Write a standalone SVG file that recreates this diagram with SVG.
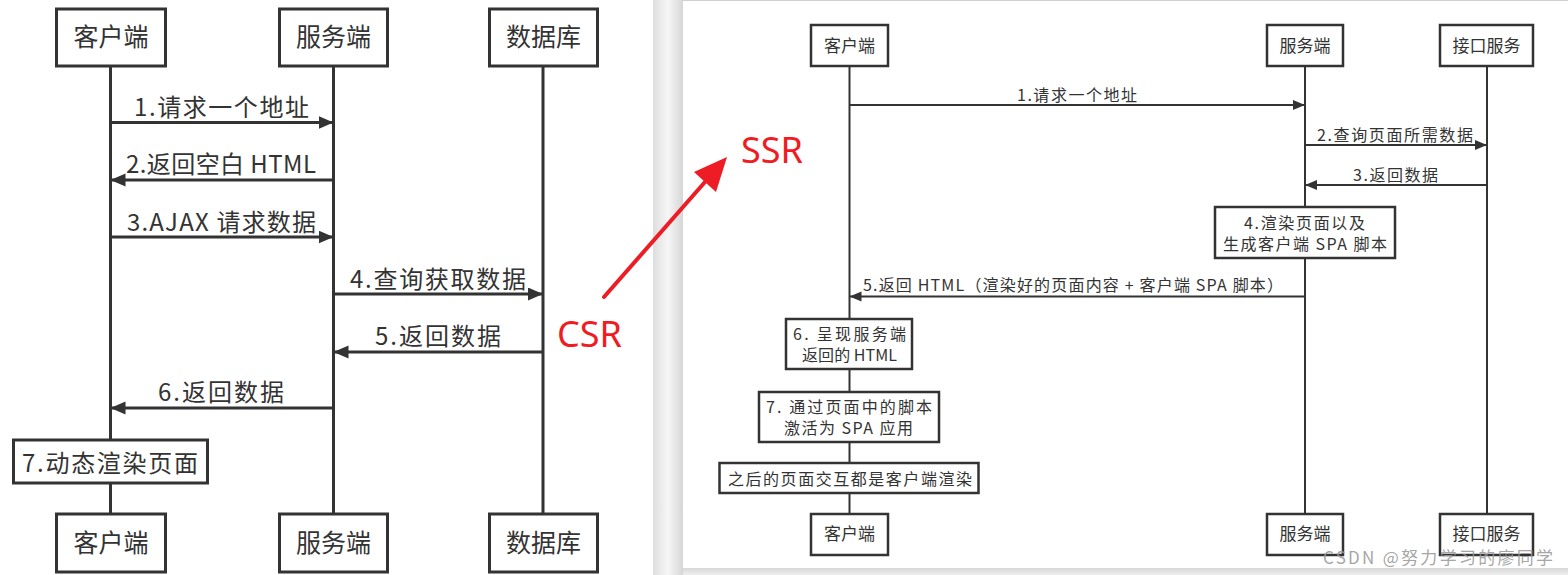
<svg xmlns="http://www.w3.org/2000/svg" width="1568" height="575" viewBox="0 0 1568 575">
<style>
.bl{fill:#fff;stroke:#333;stroke-width:3}
.br{fill:#fff;stroke:#333;stroke-width:2.5}
.ll{stroke:#333;stroke-width:3;fill:none}
.lr{stroke:#333;stroke-width:2;fill:none}
.tl{font-family:"Noto Sans CJK SC","Liberation Serif",sans-serif;font-size:24px;fill:#333}
.tr{font-family:"Noto Sans CJK SC","Liberation Serif",sans-serif;font-size:16px;fill:#333}
.tb{font-family:"Noto Sans CJK SC","Liberation Serif",sans-serif;font-size:17px;fill:#333;text-anchor:middle}
.tbl{font-family:"Noto Sans CJK SC","Liberation Serif",sans-serif;font-size:25px;fill:#333;text-anchor:middle}
.red{font-family:"Noto Sans","Open Sans",sans-serif;font-size:36px;fill:#f11b22}
</style>
<defs>
<marker id="ahL" markerUnits="userSpaceOnUse" markerWidth="16" markerHeight="14" refX="15" refY="6.5" orient="auto">
<path d="M0,0 L15,6.5 L0,13 z" fill="#333"/>
</marker>
<marker id="ahR" markerUnits="userSpaceOnUse" markerWidth="13" markerHeight="11" refX="12" refY="5" orient="auto">
<path d="M0,0 L12,5 L0,10 z" fill="#333"/>
</marker>
<linearGradient id="sep" x1="0" y1="0" x2="1" y2="0">
<stop offset="0" stop-color="#dedede"/>
<stop offset="0.5" stop-color="#f6f6f6"/>
<stop offset="1" stop-color="#d6d6d6"/>
</linearGradient>
<linearGradient id="bot" x1="0" y1="0" x2="0" y2="1">
<stop offset="0" stop-color="#d8d8d8"/>
<stop offset="1" stop-color="#eeeeee"/>
</linearGradient>
</defs>

<!-- background -->
<rect x="0" y="0" width="1568" height="575" fill="#fff"/>
<rect x="653" y="0" width="30" height="575" fill="url(#sep)"/>
<rect x="683" y="568" width="885" height="7" fill="url(#bot)"/>
<line x1="683" y1="0.5" x2="1568" y2="0.5" stroke="#d0d0d0" stroke-width="1"/>

<!-- connectors -->
<g id="connectors">
<!-- left lifelines -->
<line class="ll" x1="110.5" y1="66" x2="110.5" y2="440"/>
<line class="ll" x1="110.5" y1="483" x2="110.5" y2="513"/>
<line class="ll" x1="333.5" y1="66" x2="333.5" y2="513"/>
<line class="ll" x1="543" y1="66" x2="543" y2="513"/>
<!-- left messages -->
<line class="ll" x1="110.5" y1="122.5" x2="333.5" y2="122.5" marker-end="url(#ahL)"/>
<line class="ll" x1="333.5" y1="180" x2="110.5" y2="180" marker-end="url(#ahL)"/>
<line class="ll" x1="110.5" y1="237" x2="333.5" y2="237" marker-end="url(#ahL)"/>
<line class="ll" x1="333.5" y1="294" x2="543" y2="294" marker-end="url(#ahL)"/>
<line class="ll" x1="543" y1="352" x2="333.5" y2="352" marker-end="url(#ahL)"/>
<line class="ll" x1="333.5" y1="408" x2="110.5" y2="408" marker-end="url(#ahL)"/>
<text class="tl" x="134" y="116" textLength="175">1.请求一个地址</text>
<text class="tl" x="126" y="173" textLength="190">2.返回空白 HTML</text>
<text class="tl" x="127" y="231" textLength="189">3.AJAX 请求数据</text>
<text class="tl" x="350" y="288" textLength="176">4.查询获取数据</text>
<text class="tl" x="375" y="345" textLength="126">5.返回数据</text>
<text class="tl" x="158" y="401" textLength="126">6.返回数据</text>

<!-- right lifelines -->
<line class="lr" x1="849.5" y1="66" x2="849.5" y2="319"/>
<line class="lr" x1="849.5" y1="369" x2="849.5" y2="392"/>
<line class="lr" x1="849.5" y1="442" x2="849.5" y2="463"/>
<line class="lr" x1="849.5" y1="493" x2="849.5" y2="514"/>
<line class="lr" x1="1305" y1="66" x2="1305" y2="207"/>
<line class="lr" x1="1305" y1="258" x2="1305" y2="514"/>
<line class="lr" x1="1487" y1="66" x2="1487" y2="514"/>
<!-- right messages -->
<line class="lr" x1="849.5" y1="105" x2="1305" y2="105" marker-end="url(#ahR)"/>
<line class="lr" x1="1305" y1="145" x2="1487" y2="145" marker-end="url(#ahR)"/>
<line class="lr" x1="1487" y1="185" x2="1305" y2="185" marker-end="url(#ahR)"/>
<line class="lr" x1="1305" y1="296.5" x2="849.5" y2="296.5" marker-end="url(#ahR)"/>
<text class="tr" x="1017" y="101" textLength="120">1.请求一个地址</text>
<text class="tr" x="1317" y="141" textLength="156">2.查询页面所需数据</text>
<text class="tr" x="1353" y="181" textLength="85">3.返回数据</text>
<text class="tr" x="863" y="291" textLength="420">5.返回 HTML（渲染好的页面内容 + 客户端 SPA 脚本）</text>

<!-- red annotation arrow -->
<line x1="604" y1="297" x2="712" y2="174" stroke="#ee1c25" stroke-width="4" stroke-linecap="round"/>
<polygon points="727,157 694,172 716,192" fill="#ee1c25"/>
</g>

<!-- left nodes -->
<g id="L-client-top"><rect class="bl" x="56.5" y="9" width="109" height="57"/><text class="tbl" x="111" y="46">客户端</text></g>
<g id="L-server-top"><rect class="bl" x="279.5" y="9" width="108" height="57"/><text class="tbl" x="333.5" y="46">服务端</text></g>
<g id="L-db-top"><rect class="bl" x="489.5" y="9" width="108" height="57"/><text class="tbl" x="543.5" y="46">数据库</text></g>
<g id="L-step7"><rect class="bl" x="13.5" y="440" width="194" height="43"/><text class="tl" x="22" y="472" textLength="176">7.动态渲染页面</text></g>
<g id="L-client-bot"><rect class="bl" x="56.5" y="514" width="109" height="58"/><text class="tbl" x="111" y="552">客户端</text></g>
<g id="L-server-bot"><rect class="bl" x="279.5" y="514" width="108" height="58"/><text class="tbl" x="333.5" y="552">服务端</text></g>
<g id="L-db-bot"><rect class="bl" x="489.5" y="514" width="108" height="58"/><text class="tbl" x="543.5" y="552">数据库</text></g>

<g id="CSR-label"><text class="red" x="557" y="347">CSR</text></g>
<g id="SSR-label"><text class="red" x="741" y="163" font-size="35">SSR</text></g>

<!-- right nodes -->
<g id="R-client-top"><rect class="br" x="811" y="25" width="77" height="41"/><text class="tb" x="849.5" y="52">客户端</text></g>
<g id="R-server-top"><rect class="br" x="1267" y="25" width="76" height="41"/><text class="tb" x="1305" y="52">服务端</text></g>
<g id="R-api-top"><rect class="br" x="1440" y="25" width="93" height="41"/><text class="tb" x="1486.5" y="52">接口服务</text></g>
<g id="R-step4"><rect class="br" x="1215" y="207" width="180" height="51"/>
<text class="tr" x="1244" y="229" textLength="121">4.渲染页面以及</text>
<text class="tr" x="1223" y="250" textLength="164">生成客户端 SPA 脚本</text></g>
<g id="R-step6"><rect class="br" x="786" y="319" width="126" height="50"/>
<text class="tr" x="793" y="340" textLength="113">6. 呈现服务端</text>
<text class="tr" x="802" y="361" textLength="95">返回的 HTML</text></g>
<g id="R-step7"><rect class="br" x="759" y="392" width="180" height="50"/>
<text class="tr" x="766" y="413" textLength="166">7. 通过页面中的脚本</text>
<text class="tr" x="784" y="434" textLength="129">激活为 SPA 应用</text></g>
<g id="R-after"><rect class="br" x="719.5" y="463" width="259" height="30"/>
<text class="tr" x="728" y="485" textLength="244">之后的页面交互都是客户端渲染</text></g>
<g id="R-client-bot"><rect class="br" x="811" y="514" width="77" height="41"/><text class="tb" x="849.5" y="540">客户端</text></g>
<g id="R-server-bot"><rect class="br" x="1267" y="514" width="76" height="41"/><text class="tb" x="1305" y="540">服务端</text></g>
<g id="R-api-bot"><rect class="br" x="1440" y="514" width="93" height="41"/><text class="tb" x="1486.5" y="540">接口服务</text></g>

<g id="watermark"><text x="1323" y="564" textLength="230" font-family="Noto Sans CJK SC, sans-serif" font-size="17" fill="#9a9a9a" fill-opacity="0.9">CSDN @努力学习的廖同学</text></g>
</svg>
